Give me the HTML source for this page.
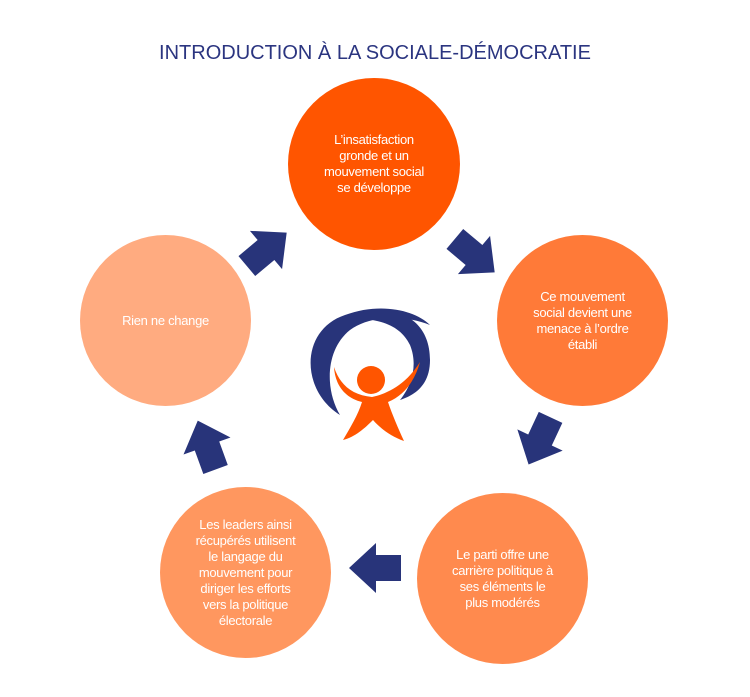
<!DOCTYPE html>
<html><head><meta charset="utf-8"><style>
body{margin:0;background:#fff;width:750px;height:697px;overflow:hidden;font-family:"Liberation Sans",sans-serif}
.t{position:absolute;left:0;width:750px;top:42px;text-align:center;font-size:20px;color:#2b3580}
.c{position:absolute;border-radius:50%;display:flex;align-items:center;justify-content:center;text-align:center;color:#fff;font-size:13px;line-height:16px;letter-spacing:-0.3px}
</style></head><body>
<div class="t">INTRODUCTION À LA SOCIALE-DÉMOCRATIE</div>
<div class="c" style="left:288px;top:78px;width:172px;height:172px;background:#ff5500">L’insatisfaction<br>gronde et un<br>mouvement social<br>se développe</div>
<div class="c" style="left:497px;top:235px;width:171px;height:171px;background:#ff7a38">Ce mouvement<br>social devient une<br>menace à l’ordre<br>établi</div>
<div class="c" style="left:417px;top:493px;width:171px;height:171px;background:#ff8a4e">Le parti offre une<br>carrière politique à<br>ses éléments le<br>plus modérés</div>
<div class="c" style="left:160px;top:487px;width:171px;height:171px;background:#ff975f">Les leaders ainsi<br>récupérés utilisent<br>le langage du<br>mouvement pour<br>diriger les efforts<br>vers la politique<br>électorale</div>
<div class="c" style="left:80px;top:235px;width:171px;height:171px;background:#ffab80">Rien ne change</div>
<svg width="750" height="697" style="position:absolute;left:0;top:0">
<defs><polygon id="a" points="-25,-13 0,-13 0,-25 27,0 0,25 0,13 -25,13" fill="#28347a"/></defs>
<use href="#a" transform="translate(266,250) rotate(-40)"/>
<use href="#a" transform="translate(474,255) rotate(40)"/>
<use href="#a" transform="translate(540,440) rotate(115)"/>
<use href="#a" transform="translate(376,568) rotate(180)"/>
<use href="#a" transform="translate(207,446) rotate(-110)"/>
<path d="M340,415 C300,390 300,330 345,315 C380,302 415,310 430,325 C405,315 370,315 350,330 C325,350 325,390 340,415Z" fill="#28347a"/>
<path d="M345,318 C390,300 430,315 430,360 C430,385 415,395 400,400 C412,385 418,365 410,345 C400,325 380,318 345,318Z" fill="#28347a"/>
<circle cx="371" cy="380" r="14" fill="#ff5500"/>
<path d="M334,367 C335,385 345,398 362,402 C358,415 350,428 343,440 C355,437 365,428 373,420 C380,428 390,436 404,441 C398,428 392,414 388,402 C405,395 415,380 420,362 C410,378 395,392 372,397 C352,395 340,385 334,367Z" fill="#ff5500"/>
</svg>
</body></html>
